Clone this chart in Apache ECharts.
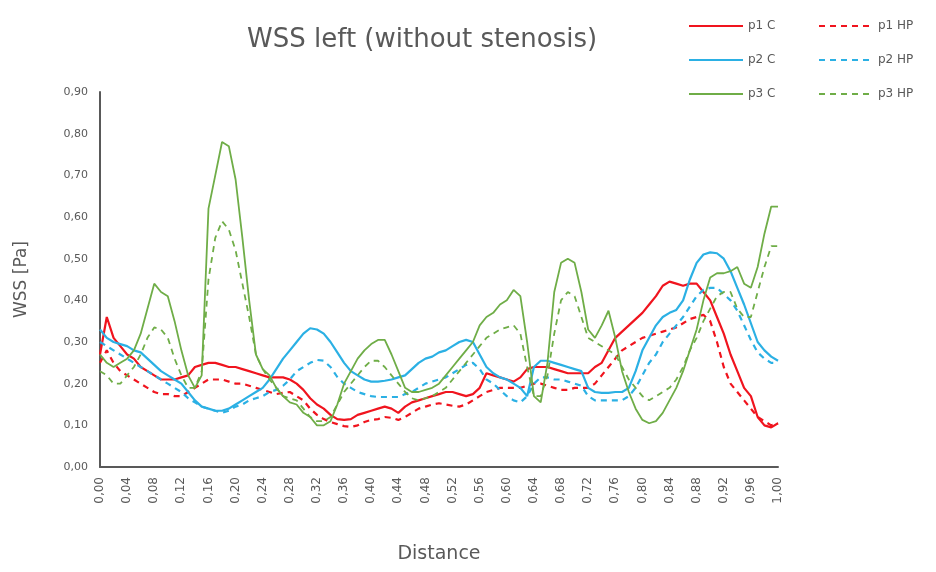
<!DOCTYPE html>
<html>
<head>
<meta charset="utf-8">
<script src="https://cdn.jsdelivr.net/npm/echarts@6/dist/echarts.min.js"></script>
<style>html,body{margin:0;padding:0;background:#fff}#c{width:936px;height:572px}</style>
</head>
<body>
<div id="c"></div>
<script>
const titleText = 'WSS left (without stenosis)';
const xName = 'Distance';
const yName = 'WSS [Pa]';
const seriesNames = ['p1 C', 'p1 HP', 'p2 C', 'p2 HP', 'p3 C', 'p3 HP'];

const dist = [0.00,0.01,0.02,0.03,0.04,0.05,0.06,0.07,0.08,0.09,
0.10,0.11,0.12,0.13,0.14,0.15,0.16,0.17,0.18,0.19,
0.20,0.21,0.22,0.23,0.24,0.25,0.26,0.27,0.28,0.29,
0.30,0.31,0.32,0.33,0.34,0.35,0.36,0.37,0.38,0.39,
0.40,0.41,0.42,0.43,0.44,0.45,0.46,0.47,0.48,0.49,
0.50,0.51,0.52,0.53,0.54,0.55,0.56,0.57,0.58,0.59,
0.60,0.61,0.62,0.63,0.64,0.65,0.66,0.67,0.68,0.69,
0.70,0.71,0.72,0.73,0.74,0.75,0.76,0.77,0.78,0.79,
0.80,0.81,0.82,0.83,0.84,0.85,0.86,0.87,0.88,0.89,
0.90,0.91,0.92,0.93,0.94,0.95,0.96,0.97,0.98,0.99,1.00];

const p1C = [0.27,0.36,0.31,0.29,0.27,0.26,0.24,0.23,0.22,0.21,
0.21,0.21,0.215,0.22,0.24,0.245,0.25,0.25,0.245,0.24,
0.24,0.235,0.23,0.225,0.22,0.215,0.215,0.215,0.21,0.20,
0.185,0.165,0.15,0.14,0.125,0.115,0.113,0.115,0.125,0.13,
0.135,0.14,0.145,0.14,0.13,0.145,0.155,0.16,0.165,0.17,
0.175,0.18,0.18,0.175,0.17,0.175,0.19,0.225,0.22,0.215,
0.21,0.205,0.215,0.235,0.24,0.24,0.24,0.235,0.23,0.225,
0.225,0.225,0.225,0.24,0.25,0.28,0.31,0.325,0.34,0.355,
0.37,0.39,0.41,0.435,0.445,0.44,0.435,0.44,0.44,0.42,
0.40,0.36,0.32,0.27,0.23,0.19,0.17,0.12,0.10,0.095,0.105];

const p1HP = [0.25,0.28,0.25,0.23,0.22,0.21,0.20,0.19,0.18,0.175,
0.175,0.17,0.17,0.18,0.19,0.20,0.21,0.21,0.21,0.205,
0.20,0.20,0.195,0.19,0.185,0.18,0.175,0.178,0.18,0.17,
0.16,0.14,0.125,0.115,0.108,0.103,0.098,0.096,0.10,0.108,
0.113,0.115,0.12,0.118,0.113,0.12,0.13,0.14,0.145,0.15,
0.153,0.15,0.147,0.145,0.15,0.16,0.17,0.18,0.185,0.19,
0.19,0.19,0.19,0.195,0.20,0.20,0.195,0.19,0.185,0.185,
0.19,0.19,0.19,0.20,0.22,0.24,0.26,0.28,0.29,0.30,
0.31,0.315,0.32,0.325,0.33,0.335,0.345,0.355,0.36,0.365,
0.35,0.30,0.24,0.20,0.18,0.16,0.14,0.12,0.11,0.10,0.105];

const p2C = [0.33,0.31,0.30,0.295,0.29,0.28,0.275,0.26,0.245,0.23,
0.22,0.21,0.20,0.18,0.16,0.145,0.14,0.135,0.135,0.14,
0.15,0.16,0.17,0.18,0.19,0.21,0.235,0.26,0.28,0.30,
0.32,0.333,0.33,0.32,0.30,0.275,0.25,0.23,0.22,0.21,
0.205,0.205,0.207,0.21,0.215,0.22,0.235,0.25,0.26,0.265,
0.275,0.28,0.29,0.30,0.305,0.30,0.27,0.24,0.225,0.215,
0.21,0.20,0.19,0.17,0.24,0.255,0.255,0.25,0.245,0.24,
0.235,0.23,0.19,0.18,0.178,0.178,0.18,0.18,0.19,0.23,
0.28,0.31,0.34,0.36,0.37,0.377,0.40,0.45,0.49,0.51,
0.515,0.513,0.50,0.47,0.43,0.39,0.345,0.30,0.28,0.265,0.255];

const p2HP = [0.30,0.29,0.28,0.27,0.26,0.25,0.24,0.23,0.22,0.21,
0.20,0.19,0.18,0.165,0.155,0.145,0.14,0.135,0.13,0.135,
0.145,0.15,0.16,0.165,0.17,0.18,0.185,0.195,0.21,0.23,
0.24,0.25,0.257,0.255,0.24,0.216,0.20,0.19,0.18,0.175,
0.17,0.168,0.168,0.168,0.168,0.175,0.18,0.19,0.20,0.205,
0.21,0.215,0.225,0.235,0.245,0.25,0.235,0.21,0.20,0.185,
0.17,0.16,0.155,0.17,0.20,0.215,0.215,0.21,0.21,0.205,
0.20,0.195,0.17,0.16,0.16,0.16,0.16,0.16,0.17,0.19,
0.22,0.25,0.27,0.30,0.32,0.34,0.36,0.385,0.41,0.425,
0.43,0.43,0.415,0.40,0.375,0.34,0.305,0.275,0.26,0.25,0.25];

const p3C = [0.27,0.25,0.24,0.25,0.26,0.28,0.32,0.38,0.44,0.42,
0.41,0.35,0.28,0.22,0.19,0.22,0.62,0.70,0.78,0.77,
0.69,0.55,0.40,0.27,0.235,0.22,0.19,0.17,0.155,0.15,
0.13,0.12,0.10,0.10,0.11,0.15,0.20,0.23,0.26,0.28,
0.295,0.305,0.305,0.27,0.23,0.19,0.18,0.18,0.185,0.19,
0.20,0.22,0.24,0.26,0.28,0.30,0.34,0.36,0.37,0.39,
0.40,0.425,0.41,0.30,0.17,0.155,0.25,0.42,0.49,0.50,
0.49,0.42,0.33,0.31,0.34,0.375,0.31,0.23,0.18,0.14,
0.113,0.105,0.11,0.13,0.16,0.19,0.23,0.28,0.33,0.40,
0.455,0.465,0.465,0.47,0.48,0.44,0.43,0.48,0.56,0.625,0.625];

const p3HP = [0.23,0.22,0.20,0.20,0.22,0.24,0.27,0.31,0.335,0.33,
0.31,0.26,0.22,0.19,0.19,0.23,0.45,0.55,0.59,0.57,
0.52,0.44,0.36,0.27,0.235,0.21,0.19,0.17,0.165,0.16,
0.14,0.12,0.11,0.11,0.12,0.15,0.18,0.20,0.22,0.24,
0.255,0.255,0.24,0.22,0.20,0.18,0.165,0.16,0.165,0.17,
0.18,0.19,0.21,0.23,0.25,0.27,0.29,0.31,0.32,0.33,
0.335,0.34,0.32,0.24,0.17,0.17,0.22,0.32,0.40,0.42,
0.41,0.36,0.31,0.30,0.29,0.28,0.27,0.24,0.21,0.19,
0.17,0.16,0.17,0.18,0.19,0.21,0.24,0.28,0.31,0.35,
0.38,0.41,0.42,0.42,0.38,0.36,0.36,0.42,0.48,0.53,0.53];

const RED = '#F0141E', BLUE = '#2BB0E4', GREEN = '#6FAD47';

function pairs(ys) { return dist.map((d, i) => [d, ys[i]]); }
function fmt(v) { return v.toFixed(2).replace('.', ','); }

function mk(name, ys, color, dashed) {
  return {
    name: name, type: 'line', data: pairs(ys), showSymbol: false, symbol: 'none',
    smooth: false, animation: false,
    lineStyle: { color: color, width: color === GREEN ? 1.8 : 2.2, type: dashed ? [6, 5] : 'solid' },
    itemStyle: { color: color }
  };
}

const chart = echarts.init(document.getElementById('c'), null, { renderer: 'canvas' });
const txt = '#595959';
const legendText = { color: txt, fontSize: 12, fontFamily: 'DejaVu Sans' };
const legendCommon = {
  orient: 'vertical', top: 20, itemWidth: 54, itemHeight: 14, itemGap: 22,
  textStyle: legendText, padding: 0, itemStyle: { opacity: 0 }
};
chart.setOption({
  backgroundColor: '#fff',
  animation: false,
  title: {
    text: titleText, left: 242, top: 22,
    textStyle: { color: txt, fontSize: 26, fontWeight: 'normal', fontFamily: 'DejaVu Sans' }
  },
  legend: [
    Object.assign({ data: [seriesNames[0], seriesNames[2], seriesNames[4]], left: 688 }, legendCommon),
    Object.assign({ data: [seriesNames[1], seriesNames[3], seriesNames[5]], left: 818 }, legendCommon)
  ],
  grid: { left: 100, right: 158, top: 92, bottom: 105, containLabel: false },
  xAxis: {
    type: 'value', min: 0, max: 1, interval: 0.04,
    name: xName, nameLocation: 'middle', nameGap: 78,
    nameTextStyle: { color: txt, fontSize: 19, fontFamily: 'DejaVu Sans' },
    axisLine: { show: true, lineStyle: { color: '#595959', width: 2 } },
    axisTick: { show: false },
    splitLine: { show: false },
    axisLabel: { rotate: 90, color: txt, fontSize: 12, fontFamily: 'DejaVu Sans', margin: 10, formatter: fmt }
  },
  yAxis: {
    type: 'value', min: 0, max: 0.9, interval: 0.1,
    name: yName, nameLocation: 'middle', nameGap: 70,
    nameTextStyle: { color: txt, fontSize: 17, fontFamily: 'DejaVu Sans' },
    axisLine: { show: true, lineStyle: { color: '#595959', width: 2 } },
    axisTick: { show: false },
    splitLine: { show: false },
    axisLabel: { color: txt, fontSize: 11, fontFamily: 'DejaVu Sans', margin: 12, formatter: fmt }
  },
  series: [
    mk(seriesNames[0], p1C, RED, false),
    mk(seriesNames[1], p1HP, RED, true),
    mk(seriesNames[2], p2C, BLUE, false),
    mk(seriesNames[3], p2HP, BLUE, true),
    mk(seriesNames[4], p3C, GREEN, false),
    mk(seriesNames[5], p3HP, GREEN, true)
  ]
});
</script>
</body>
</html>
